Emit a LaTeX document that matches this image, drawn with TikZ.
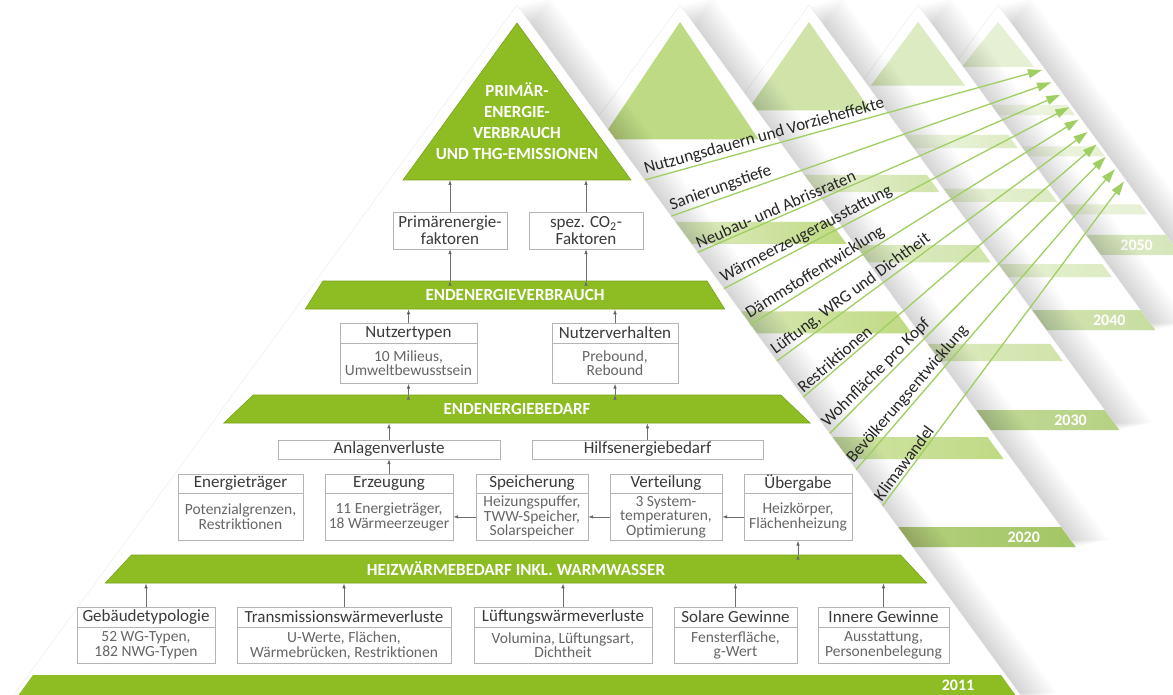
\documentclass[tikz,border=0pt]{standalone}
\usepackage{fontspec}
\setmainfont{Carlito}
\usetikzlibrary{arrows.meta,shapes.geometric,positioning}

\definecolor{gmain}{HTML}{8DBD23}
\definecolor{gedge}{HTML}{7AA41E}
\definecolor{boxline}{HTML}{B4B4B4}
\definecolor{txtdark}{HTML}{3A3A3A}
\definecolor{txtgray}{HTML}{666666}
\definecolor{arrgray}{HTML}{6E6E6E}
\definecolor{trendg}{HTML}{9FCF62}
\definecolor{tri20}{HTML}{BFDA84} \definecolor{yr20}{HTML}{A3C663}
\definecolor{tri30}{HTML}{D0E4AA} \definecolor{yr30}{HTML}{B5D283}
\definecolor{tri40}{HTML}{DCEBC2} \definecolor{yr40}{HTML}{C7DDA0}
\definecolor{tri50}{HTML}{E6F0D4} \definecolor{yr50}{HTML}{D6E6BA}

\newcommand\boxhfont{\fontsize{17}{17}\selectfont}
\newcommand\boxbfont{\fontsize{15.5}{14.5}\selectfont}
\newcommand\bandfont{\fontsize{17}{21}\selectfont\bfseries}

% one pyramid of a later year: apex x, bottom y, colour, year colour, year
\newcommand\bgpyr[5]{%
  \pgfmathsetmacro\ps{(#2-5)/690}%
  \pgfmathsetmacro\phw{0.73*(#2-5)}%
  \foreach \k in {1,...,14}
    \fill[black,opacity=0.013,xshift=\k*2.4pt,yshift=\k*0.5pt]
      (#1,5) -- ({#1+\phw},#2) -- ({#1-\phw},#2) -- cycle;
  \fill[white,draw=black!8] (#1,5) -- ({#1+\phw},#2) -- ({#1-\phw},#2) -- cycle;
  \fill[#3] (#1,22) -- ({#1+100*\ps},{5+171*\ps}) -- ({#1-100*\ps},{5+171*\ps}) -- cycle;
  \foreach \t in {276,390,550}{
    \pgfmathsetmacro\ya{5+\t*\ps}
    \pgfmathsetmacro\yz{\ya+28*\ps}
    \pgfmathsetmacro\wa{0.73*(\ya-5)-10*\ps}
    \pgfmathsetmacro\wz{0.73*(\yz-5)-10*\ps}
    \shade[left color=white,right color=#3]
      ({#1-\wa},\ya) -- ({#1+\wa},\ya) -- ({#1+\wz},\yz) -- ({#1-\wz},\yz) -- cycle;
  }
  \pgfmathsetmacro\wa{0.73*(#2-25)}%
  \shade[left color=#4!25,right color=#4]
    ({#1-\wa},{#2-20}) -- ({#1+\wa},{#2-20}) -- ({#1+\phw},#2) -- ({#1-\phw},#2) -- cycle;
  \node[yr] (yr#5) at ({#1+\phw-37-19*\ps},{#2-10}) {#5};
}

\tikzset{
  box/.style={draw=boxline, fill=white, text=txtdark, font=\boxhfont, align=center, inner sep=1pt},
  boxh/.style={box, minimum height=20},
  boxb/.style={box, text=txtgray, font=\boxbfont},
  band/.style={trapezium, trapezium angle=54, trapezium stretches=true, fill=gmain, draw=gedge,
    line width=0.6, text=white, font=\bandfont, minimum height=28, inner sep=0pt},
  tri/.style={text=white, font=\bandfont, align=center, inner sep=0pt},
  yr/.style={text=white, font=\fontsize{16}{16}\selectfont\bfseries, inner sep=0pt},
  arr/.style={draw=arrgray, line width=0.8, -{Latex[length=5pt,width=3.6pt]}},
  trend/.style={draw=trendg, line width=1.3, -{Triangle[length=14pt,width=9pt]}},
  lbl/.style={text=black!85, font=\fontsize{17}{17}\selectfont, inner sep=2pt},
}

\begin{document}
\begin{tikzpicture}[x=1pt,y=-1pt]
\useasboundingbox (0,0) rectangle (1173,695);

% later years, farthest first
\bgpyr{998}{255}{tri50}{yr50}{2050}
\bgpyr{918}{330}{tri40}{yr40}{2040}
\bgpyr{809}{430}{tri30}{yr30}{2030}
\bgpyr{680}{547}{tri20}{yr20}{2020}

% 2011
\foreach \k in {1,...,14}
  \fill[black,opacity=0.013,xshift=\k*2.4pt,yshift=\k*0.5pt] (517,5) -- (1024,700) -- (10,700) -- cycle;
\fill[white,draw=black!8] (517,5) -- (1024,700) -- (10,700) -- cycle;
\fill[gmain,draw=gedge,line width=0.6] (517,23) -- (631,180) -- (403,180) -- cycle;
\node[tri] (prim) at (517,121) {PRIMÄR-\\ENERGIE-\\VERBRAUCH\\UND THG-EMISSIONEN};
\coordinate (tribase) at (517,180);
\fill[gmain] (33,675) -- (1001,675) -- (1019,700) -- (15,700) -- cycle;
\node[yr] (yr2011) at (958,685) {2011};

\node[band, minimum width=420] (verbr) at (515,295) {ENDENERGIEVERBRAUCH};
\node[band, minimum width=587] (bedarf) at (517,409) {ENDENERGIEBEDARF};
\node[band, minimum width=825] (heizw) at (516,569) {HEIZWÄRMEBEDARF INKL. WARMWASSER};

\node[box, minimum width=114, minimum height=37] (pef) at (450,230.5) {Primärenergie-\\faktoren};
\node[box, minimum width=114, minimum height=37] (co2) at (586,230.5) {spez. CO\textsubscript{2}-\\Faktoren};

\node[boxh, minimum width=137] (typH) at (408.5,333) {Nutzertypen};
\node[boxb, minimum width=137, minimum height=40, below=0pt of typH] (typ) {10 Milieus,\\Umweltbewusstsein};
\node[boxh, minimum width=126] (verhH) at (615,333) {Nutzerverhalten};
\node[boxb, minimum width=126, minimum height=40, below=0pt of verhH] (verh) {Prebound,\\Rebound};

\node[box, minimum width=222, minimum height=19] (anl) at (389,449.5) {Anlagenverluste};
\node[box, minimum width=231, minimum height=19] (hilf) at (647.5,449.5) {Hilfsenergiebedarf};

\node[boxh, minimum height=19, minimum width=125] (etrH) at (240.5,483.5) {Energieträger};
\node[boxb, minimum width=125, minimum height=47, below=0pt of etrH] (etr) {Potenzialgrenzen,\\Restriktionen};
\node[boxh, minimum height=19, minimum width=128] (erzH) at (389,483.5) {Erzeugung};
\node[boxb, minimum width=128, minimum height=47, below=0pt of erzH] (erz) {11 Energieträger,\\18 Wärmeerzeuger};
\node[boxh, minimum height=19, minimum width=112] (speiH) at (532,483.5) {Speicherung};
\node[boxb, minimum width=112, minimum height=47, below=0pt of speiH] (spei) {Heizungspuffer,\\TWW-Speicher,\\Solarspeicher};
\node[boxh, minimum height=19, minimum width=112] (vertH) at (666,483.5) {Verteilung};
\node[boxb, minimum width=112, minimum height=47, below=0pt of vertH] (vert) {3 System-\\temperaturen,\\Optimierung};
\node[boxh, minimum height=19, minimum width=108] (uebH) at (798,483.5) {Übergabe};
\node[boxb, minimum width=108, minimum height=47, below=0pt of uebH] (ueb) {Heizkörper,\\Flächenheizung};

\node[boxh, minimum width=138] (gebH) at (146,617) {Gebäudetypologie};
\node[boxb, minimum width=138, minimum height=36, below=0pt of gebH] (geb) {52 WG-Typen,\\182 NWG-Typen};
\node[boxh, minimum width=214] (traH) at (344,617) {Transmissionswärmeverluste};
\node[boxb, minimum width=214, minimum height=36, below=0pt of traH] (tra) {U-Werte, Flächen,\\Wärmebrücken, Restriktionen};
\node[boxh, minimum width=178] (lueH) at (563,617) {Lüftungswärmeverluste};
\node[boxb, minimum width=178, minimum height=36, below=0pt of lueH] (lue) {Volumina, Lüftungsart,\\Dichtheit};
\node[boxh, minimum width=123] (solH) at (735.5,617) {Solare Gewinne};
\node[boxb, minimum width=123, minimum height=36, below=0pt of solH] (sol) {Fensterfläche,\\g-Wert};
\node[boxh, minimum width=131] (innH) at (883.5,617) {Innere Gewinne};
\node[boxb, minimum width=131, minimum height=36, below=0pt of innH] (inn) {Ausstattung,\\Personenbelegung};

\path [arr] (pef) edge (pef |- tribase);
\path [arr] (co2) edge (co2 |- tribase);
\path [arr] (verbr.north -| pef) edge (pef);
\path [arr] (verbr.north -| co2) edge (co2);
\path [arr] (typH) edge (typH |- verbr.south);
\path [arr] (verhH) edge (verhH |- verbr.south);
\path [arr] (bedarf.north -| typ) edge (typ);
\path [arr] (bedarf.north -| verh) edge (verh);
\path [arr] (anl) edge (anl |- bedarf.south);
\path [arr] (hilf) edge (hilf |- bedarf.south);
\path [arr] (erzH) edge (anl);
\path [arr] (spei) edge (erz);
\path [arr] (vert) edge (spei);
\path [arr] (ueb) edge (vert);
\path [arr] (heizw.north -| ueb) edge (ueb);
\foreach \b in {geb,tra,lue,sol,inn}
  \path [arr] (\b H) edge (\b H |- heizw.south);

% influences towards 2050
\foreach \i in {0,...,9}{
  \coordinate (s\i) at ({517+0.73*(175+36.2*\i)},{180+36.2*\i});
  \coordinate (e\i) at ({1042+9.1*\i},{70+12.4*\i});
}
\foreach \i/\lab in {0/Nutzungsdauern und Vorzieheffekte, 1/Sanierungstiefe,
    2/Neubau- und Abrissraten, 3/Wärmeerzeugerausstattung, 4/Dämmstoffentwicklung,
    5/{Lüftung, WRG und Dichtheit}, 6/Restriktionen, 7/Wohnfläche pro Kopf,
    8/Bevölkerungsentwicklung, 9/Klimawandel}
  \draw[trend] (s\i) -- (e\i) node[lbl, pos=0, sloped, anchor=south west] {\lab};
\end{tikzpicture}
\end{document}
